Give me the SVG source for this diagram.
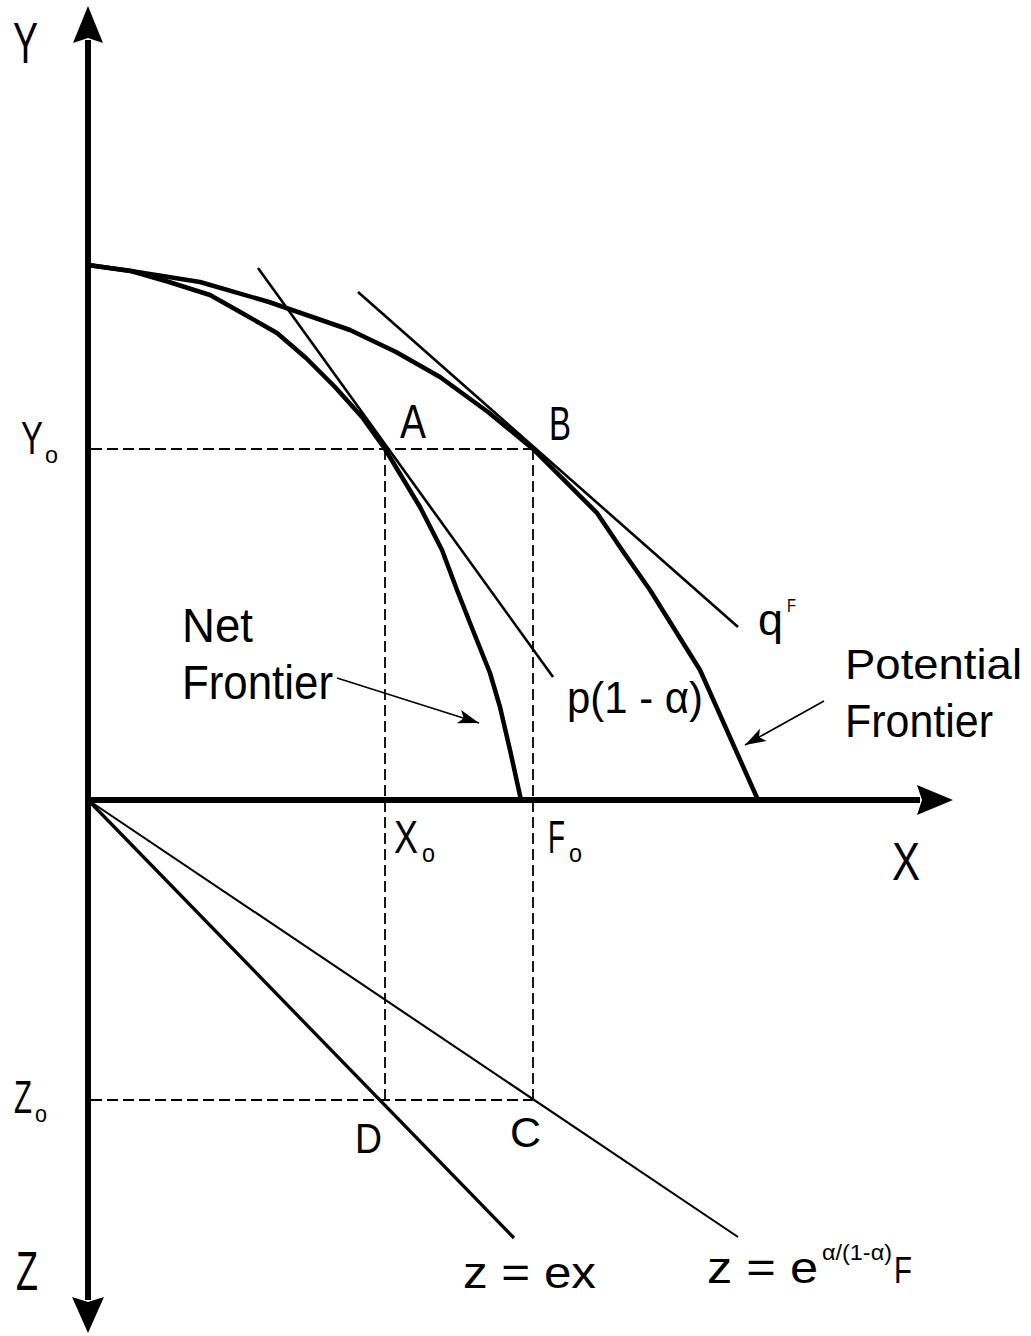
<svg xmlns="http://www.w3.org/2000/svg" width="1031" height="1336" viewBox="0 0 1031 1336">
<style>
text{font-family:"Liberation Sans",Arial,sans-serif;fill:#000}
.ax{stroke:#000;stroke-width:6;fill:none}
.fr{stroke:#000;stroke-width:4.5;fill:none;stroke-linejoin:round;stroke-linecap:round}
.tg{stroke:#000;stroke-width:2.6;fill:none}
.dash{stroke:#000;stroke-width:1.8;fill:none;stroke-dasharray:11 5}
.ptr{stroke:#000;stroke-width:1.6;fill:none}
.head{fill:#000}
</style>
<defs>
<marker id="ah" markerUnits="userSpaceOnUse" markerWidth="24" markerHeight="16" refX="21" refY="7" orient="auto">
<path d="M0,0 L21,7 L0,14 L5,7 z" fill="#000"/>
</marker>
</defs>
<rect width="1031" height="1336" fill="#fff"/>

<g id="axes">
<line class="ax" x1="88" y1="40" x2="88" y2="1300"/>
<line class="ax" x1="85" y1="800" x2="920" y2="800"/>
<path class="head" d="M88,6 L103,43 L88,38 L73,43 z"/>
<path class="head" d="M88,1333 L104,1297 L88,1302 L72,1297 z"/>
<path class="head" d="M953,800 L917,815 L922,800 L917,785 z"/>
</g>

<g id="guides">
<path class="dash" d="M91,449 H533"/>
<path class="dash" d="M385,449 V1100"/>
<path class="dash" d="M533,449 V1100"/>
<path class="dash" d="M91,1100 H533"/>
</g>

<g id="potential-frontier">
<polyline class="fr" points="88,265 131,271 200,282 269,302 350,330 396,352 440,377 488,412 533,449 597,513 622,550 650,590 700,670 758,800"/>
</g>
<g id="net-frontier">
<polyline class="fr" points="88,265 131,271 169,282 210,295 242,313 277,333 306,358 335,387 362,417 385,449 420,507 442,550 457,590 470,623 490,673 500,707 510,750 521,800"/>
</g>

<g id="tangents">
<line class="tg" x1="258" y1="268" x2="553" y2="677"/>
<line class="tg" x1="358" y1="292" x2="738" y2="627"/>
</g>

<g id="z-lines">
<line stroke="#000" stroke-width="3.3" x1="88" y1="800" x2="514" y2="1238"/>
<line stroke="#000" stroke-width="2.1" x1="88" y1="800" x2="738" y2="1237"/>
</g>

<g id="connectors">
<line class="ptr" x1="337" y1="678" x2="479" y2="723" marker-end="url(#ah)"/>
<line class="ptr" x1="824" y1="701" x2="745" y2="745" marker-end="url(#ah)"/>
</g>

<g id="labels">
<text x="13" y="63" font-size="57" textLength="25" lengthAdjust="spacingAndGlyphs">Y</text>
<text font-size="46"><tspan x="21" y="454" textLength="22" lengthAdjust="spacingAndGlyphs">Y</tspan><tspan x="45" y="463" font-size="24" textLength="13" lengthAdjust="spacingAndGlyphs">o</tspan></text>
<text x="400" y="438" font-size="49" textLength="26" lengthAdjust="spacingAndGlyphs">A</text>
<text x="549" y="440" font-size="49" textLength="22" lengthAdjust="spacingAndGlyphs">B</text>
<text x="182" y="642" font-size="49" textLength="71" lengthAdjust="spacingAndGlyphs">Net</text>
<text x="182" y="699" font-size="48" textLength="151" lengthAdjust="spacingAndGlyphs">Frontier</text>
<text x="567" y="713" font-size="44" textLength="136" lengthAdjust="spacingAndGlyphs">p(1 - α)</text>
<text x="758" y="635" font-size="44" textLength="25" lengthAdjust="spacingAndGlyphs">q</text>
<text x="787" y="612" font-size="19" textLength="9" lengthAdjust="spacingAndGlyphs">F</text>
<text x="845" y="679" font-size="43" textLength="177" lengthAdjust="spacingAndGlyphs">Potential</text>
<text x="845" y="737" font-size="47" textLength="148" lengthAdjust="spacingAndGlyphs">Frontier</text>
<text font-size="47"><tspan x="394" y="853" textLength="24" lengthAdjust="spacingAndGlyphs">X</tspan><tspan x="422" y="862" font-size="25" textLength="13" lengthAdjust="spacingAndGlyphs">o</tspan></text>
<text font-size="47"><tspan x="548" y="853" textLength="17" lengthAdjust="spacingAndGlyphs">F</tspan><tspan x="569" y="862" font-size="25" textLength="13" lengthAdjust="spacingAndGlyphs">o</tspan></text>
<text x="892" y="880" font-size="54" textLength="28" lengthAdjust="spacingAndGlyphs">X</text>
<text font-size="46"><tspan x="14" y="1113" textLength="18" lengthAdjust="spacingAndGlyphs">Z</tspan><tspan x="35" y="1122" font-size="24" textLength="12" lengthAdjust="spacingAndGlyphs">o</tspan></text>
<text x="355" y="1153" font-size="43" textLength="27" lengthAdjust="spacingAndGlyphs">D</text>
<text x="510" y="1147" font-size="43" textLength="31" lengthAdjust="spacingAndGlyphs">C</text>
<text x="16" y="1290" font-size="55" textLength="22" lengthAdjust="spacingAndGlyphs">Z</text>
<text x="463" y="1288" font-size="44" textLength="133" lengthAdjust="spacingAndGlyphs">z = ex</text>
<text x="707" y="1283" font-size="44" textLength="111" lengthAdjust="spacingAndGlyphs">z = e</text>
<text x="822" y="1260" font-size="22" textLength="70" lengthAdjust="spacingAndGlyphs">α/(1-α)</text>
<text x="894" y="1283" font-size="37" textLength="18" lengthAdjust="spacingAndGlyphs">F</text>
</g>
</svg>
